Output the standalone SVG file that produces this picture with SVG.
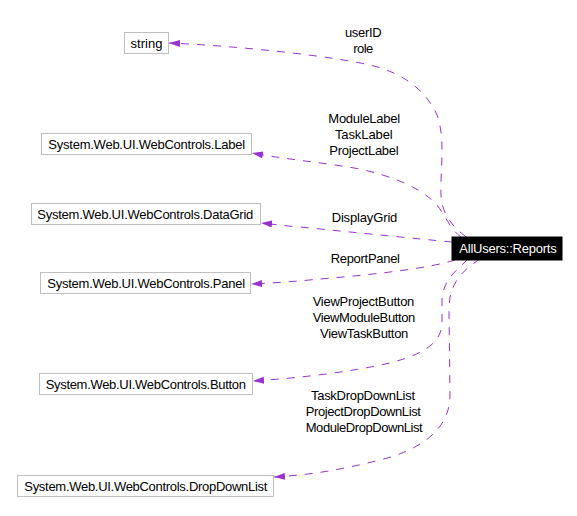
<svg xmlns="http://www.w3.org/2000/svg" width="577" height="516" viewBox="0 0 577 516">
<style>
text{font-family:"Liberation Sans",Arial,sans-serif;font-size:13px;fill:#000;text-anchor:middle}
.box{fill:#fff;stroke:#bfbfbf;stroke-width:1}
.edge{fill:none;stroke:#9a32cd;stroke-width:1;stroke-dasharray:8,8;marker-end:url(#arr)}
.main{fill:#000;stroke:#000}
.wt{fill:#fff}
</style>
<defs>
<marker id="arr" markerUnits="userSpaceOnUse" markerWidth="12" markerHeight="8" refX="11" refY="3.5" orient="auto">
<path d="M0,0 L11,3.5 L0,7 z" fill="#9a32cd"/>
</marker>
</defs>
<rect width="577" height="516" fill="#fff"/>
<g id="edges">
<path class="edge" d="M466,237 C452,226 442,214 441,195 C440,170 446,140 437,115 C425,88 400,72 370,65 C330,56 240,46 169,43"/>
<path class="edge" d="M461,237 C448,228 444,210 432,200 C415,185 390,176 360,169 C320,162 290,160 252,153"/>
<path class="edge" d="M452,242 C420,239 360,233 300,227 C285,226 272,224 261,223"/>
<path class="edge" d="M455,260 C430,268 380,274 320,279 C300,281 275,283 251,284"/>
<path class="edge" d="M468,259 C455,272 443,280 442,300 L442,325 C440,345 420,355 390,363 C350,372 300,378 253,381"/>
<path class="edge" d="M480,259 C460,272 449,285 449,310 L450,395 C450,430 420,450 380,460 C340,470 310,475 274,477"/>
<text x="363.3" y="37" textLength="36.7">userID</text>
<text x="363.3" y="53" textLength="20">role</text>
<text x="364.2" y="123" textLength="71.7">ModuleLabel</text>
<text x="363.8" y="139" textLength="57.7">TaskLabel</text>
<text x="364" y="155" textLength="69.3">ProjectLabel</text>
<text x="364.5" y="222" textLength="65.7">DisplayGrid</text>
<text x="365.3" y="263" textLength="69.3">ReportPanel</text>
<text x="363.5" y="306" textLength="101.7">ViewProjectButton</text>
<text x="364" y="322" textLength="102.7">ViewModuleButton</text>
<text x="364.2" y="338" textLength="88.3">ViewTaskButton</text>
<text x="363" y="400" textLength="104">TaskDropDownList</text>
<text x="363.3" y="416" textLength="115.3">ProjectDropDownList</text>
<text x="364.2" y="432" textLength="117">ModuleDropDownList</text>
</g>
<g id="node-reports">
<rect class="main" x="452" y="237" width="110" height="23"/>
<text class="wt" x="508" y="253" textLength="97.4">AllUsers::Reports</text>
</g>
<g id="node-string">
<rect class="box" x="124.5" y="32.5" width="44" height="21"/>
<text x="146.5" y="47.5" textLength="32">string</text>
</g>
<g id="node-label">
<rect class="box" x="41.5" y="133.5" width="210" height="21"/>
<text x="146.7" y="148.5" textLength="196.7">System.Web.UI.WebControls.Label</text>
</g>
<g id="node-datagrid">
<rect class="box" x="31.5" y="203.5" width="229" height="21"/>
<text x="145.3" y="218.5" textLength="216">System.Web.UI.WebControls.DataGrid</text>
</g>
<g id="node-panel">
<rect class="box" x="40.5" y="272.5" width="210" height="21"/>
<text x="146.2" y="287.5" textLength="197.7">System.Web.UI.WebControls.Panel</text>
</g>
<g id="node-button">
<rect class="box" x="39.5" y="373.5" width="213" height="21"/>
<text x="145.8" y="388.5" textLength="200.3">System.Web.UI.WebControls.Button</text>
</g>
<g id="node-dropdownlist">
<rect class="box" x="17.5" y="475.5" width="256" height="21"/>
<text x="145.8" y="490.5" textLength="243">System.Web.UI.WebControls.DropDownList</text>
</g>
</svg>
